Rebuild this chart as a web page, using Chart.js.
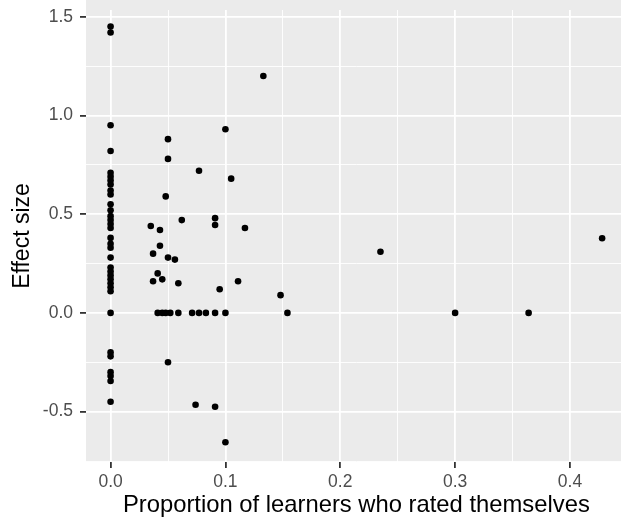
<!DOCTYPE html>
<html><head><meta charset="utf-8">
<script src="https://cdn.jsdelivr.net/npm/chart.js@4"></script>
<style>html,body{margin:0;padding:0;background:#fff;overflow:hidden;width:621px;height:521px}canvas{display:block}</style>
</head><body>
<canvas id="c" width="630" height="521"></canvas>
<script>
// Studies where proportion = 0
const zeroProportionEffects = [1.45, 1.42, 0.95, 0.82, 0.71, 0.69, 0.67, 0.65, 0.62, 0.60, 0.55, 0.52, 0.49, 0.47, 0.45, 0.43, 0.38, 0.35, 0.33, 0.28, 0.23, 0.21, 0.19, 0.17, 0.15, 0.13, 0.11, 0.0, -0.20, -0.22, -0.30, -0.32, -0.345, -0.45];
// Studies with proportion > 0
const otherProportions = [0.100, 0.050, 0.050, 0.077, 0.105, 0.048, 0.062, 0.091, 0.091, 0.035, 0.043, 0.117, 0.043, 0.037, 0.050, 0.056, 0.041, 0.037, 0.045, 0.059, 0.111, 0.095,
  0.041, 0.045, 0.048, 0.052, 0.059, 0.071, 0.077, 0.083, 0.091, 0.100,
  0.050, 0.074, 0.091, 0.100, 0.133, 0.148, 0.154, 0.235, 0.300, 0.364, 0.428];
const otherEffects = [0.93, 0.88, 0.78, 0.72, 0.68, 0.59, 0.47, 0.48, 0.445, 0.44, 0.42, 0.43, 0.34, 0.30, 0.28, 0.27, 0.20, 0.16, 0.17, 0.15, 0.16, 0.12,
  0, 0, 0, 0, 0, 0, 0, 0, 0, 0,
  -0.25, -0.465, -0.475, -0.655, 1.20, 0.09, 0.0, 0.31, 0.0, 0.0, 0.378];
const xTickValues = [0, 0.05, 0.1, 0.15, 0.2, 0.25, 0.3, 0.35, 0.4];
const yTickValues = [-0.75, -0.5, -0.25, 0, 0.25, 0.5, 0.75, 1.0, 1.25, 1.5];
const xTitle = 'Proportion of learners who rated themselves';
const yTitle = 'Effect size';

const points = zeroProportionEffects.map(v => ({x: 0, y: v}))
  .concat(otherProportions.map((p, i) => ({x: p, y: otherEffects[i]})));

const isMajorX = v => Math.abs(v * 10 - Math.round(v * 10)) < 1e-6;
const isMajorY = v => Math.abs(v * 2 - Math.round(v * 2)) < 1e-6;

Chart.defaults.font.family = "'Liberation Sans', Arial, Helvetica, sans-serif";

const bgPlugin = {
  id: 'panelBg',
  beforeDraw(chart) {
    const {ctx, chartArea: a} = chart;
    ctx.save();
    ctx.fillStyle = '#EBEBEB';
    ctx.fillRect(a.left, 0, a.right - a.left, a.bottom);
    ctx.restore();
  }
};

new Chart(document.getElementById('c'), {
  type: 'scatter',
  data: { datasets: [{ data: points, backgroundColor: '#000', borderWidth: 0, pointRadius: 3.3, pointHoverRadius: 3.3 }] },
  options: {
    responsive: false, animation: false,
    layout: { padding: { top: 10, right: 0, left: 0, bottom: 0 } },
    plugins: { legend: { display: false }, tooltip: { enabled: false } },
    scales: {
      x: {
        type: 'linear', min: -0.0214, max: 0.4494,
        afterBuildTicks: s => { s.ticks = xTickValues.map(v => ({value: v})); },
        afterFit: s => { s.height = 59; s.paddingLeft = 0; s.paddingRight = 0; },
        border: { display: false },
        grid: {
          color: '#FFFFFF',
          lineWidth: c => isMajorX(c.tick.value) ? 1.8 : 0.9,
          tickColor: c => isMajorX(c.tick.value) ? '#333333' : 'rgba(0,0,0,0)',
          tickLength: 6, tickWidth: 1.8, drawTicks: true
        },
        ticks: {
          autoSkip: false, maxRotation: 0, color: '#4D4D4D', padding: 4,
          font: { size: 17.5 },
          callback: v => isMajorX(v) ? v.toFixed(1) : ''
        },
        title: { display: true, text: xTitle, color: '#000', font: { size: 23.8 }, padding: { top: 0, bottom: 1 } }
      },
      y: {
        type: 'linear', min: -0.755, max: 1.534,
        afterBuildTicks: s => { s.ticks = yTickValues.map(v => ({value: v})); },
        afterFit: s => { s.width = 86; s.paddingTop = 0; s.paddingBottom = 0; },
        border: { display: false },
        grid: {
          color: '#FFFFFF',
          lineWidth: c => isMajorY(c.tick.value) ? 1.8 : 0.9,
          tickColor: c => isMajorY(c.tick.value) ? '#333333' : 'rgba(0,0,0,0)',
          tickLength: 6, tickWidth: 1.8, drawTicks: true
        },
        ticks: {
          autoSkip: false, color: '#4D4D4D', padding: 7,
          font: { size: 17.5 },
          callback: v => isMajorY(v) ? v.toFixed(1) : ''
        },
        title: { display: true, text: yTitle, color: '#000', font: { size: 23 }, padding: { top: 9, bottom: 0 } }
      }
    }
  },
  plugins: [bgPlugin]
});
</script>
</body></html>
